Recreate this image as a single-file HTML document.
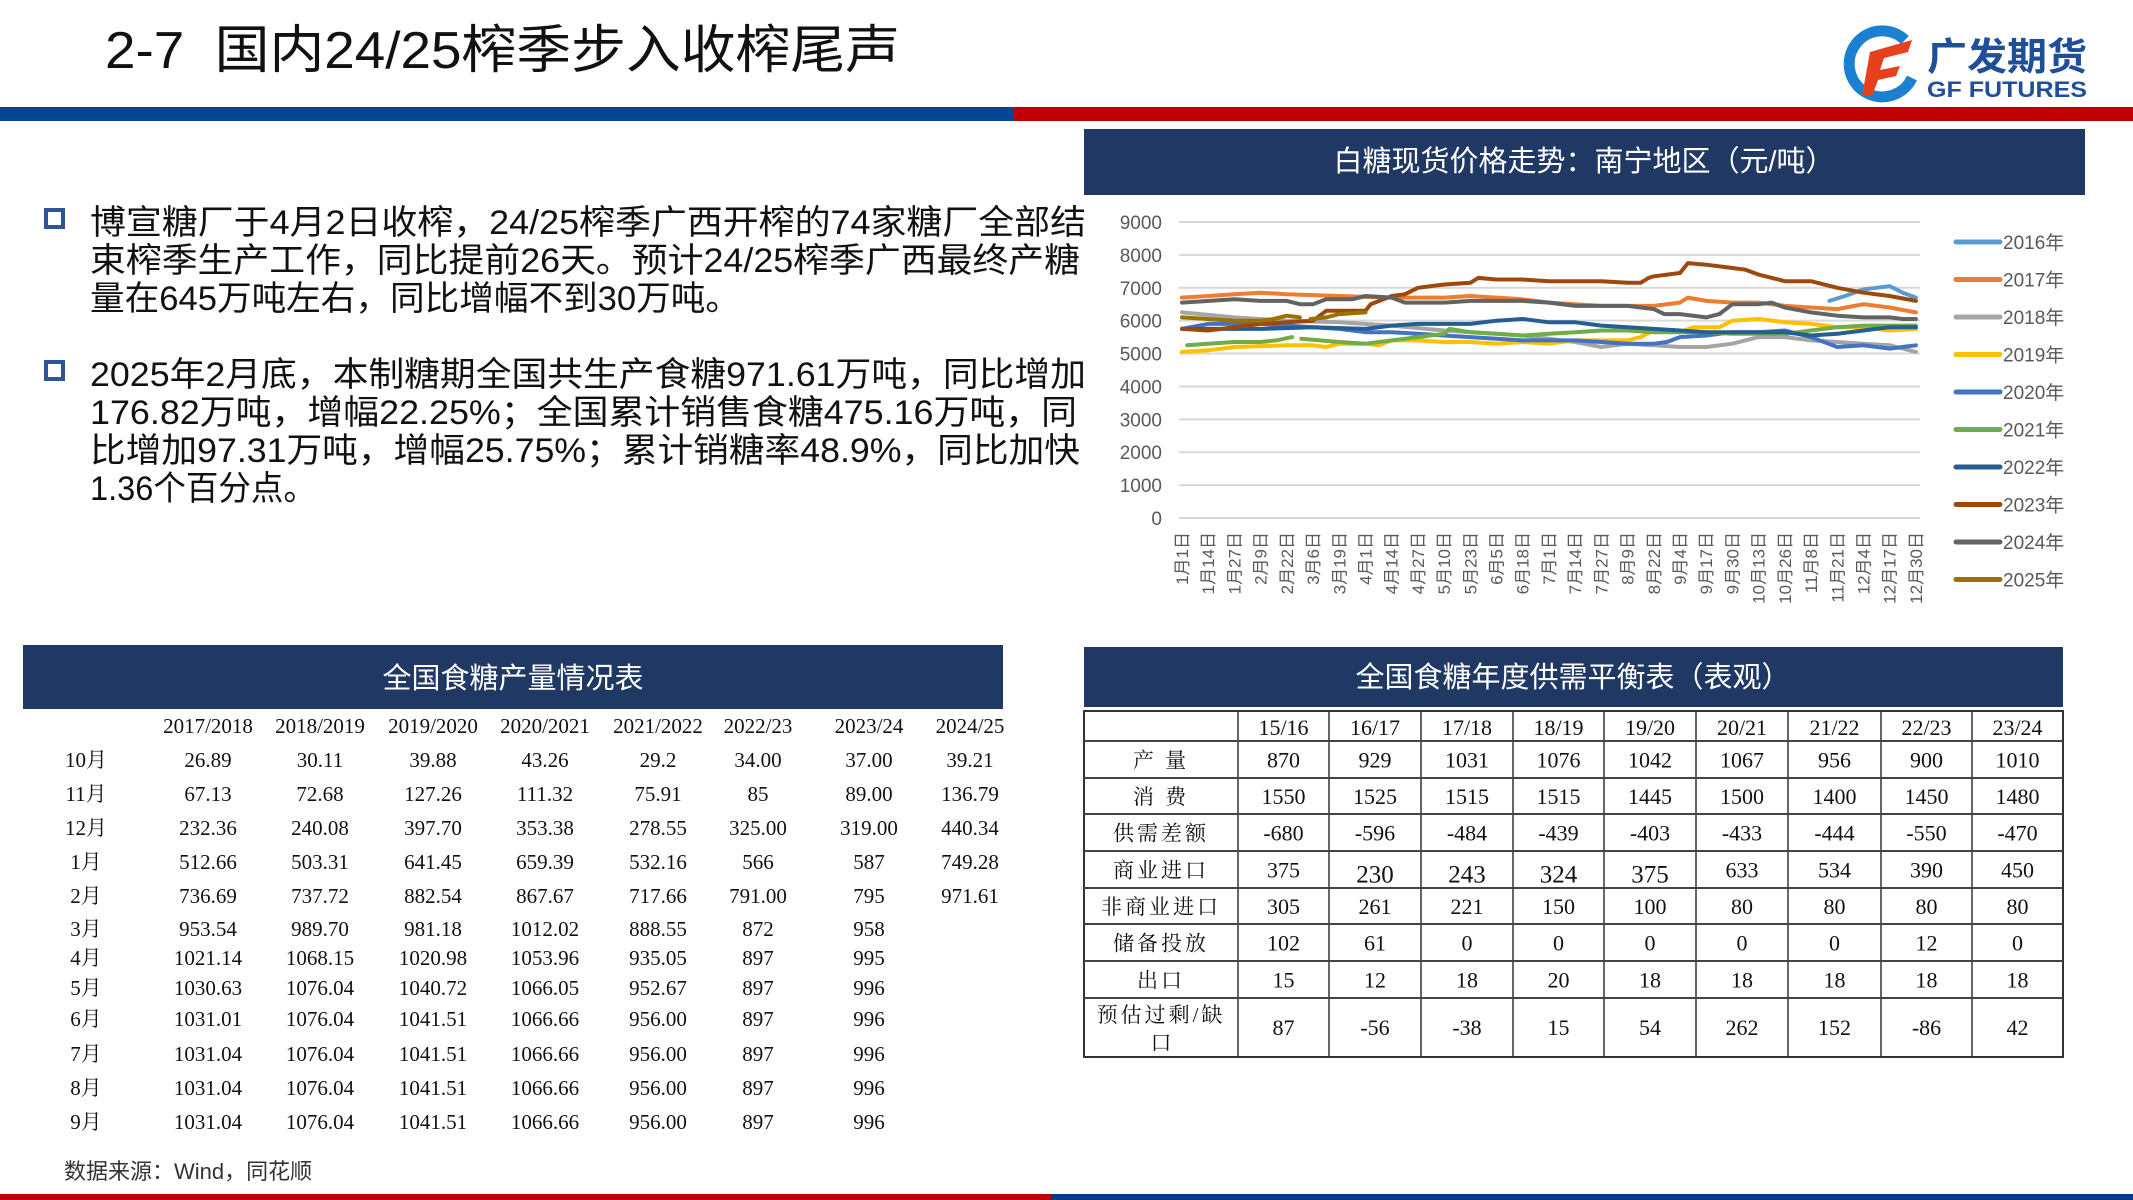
<!DOCTYPE html>
<html><head><meta charset="utf-8"><style>
html,body{margin:0;padding:0;background:#fff;}
svg{display:block}
text{font-family:"Liberation Sans","Noto Sans CJK SC",sans-serif;}
.serif, .serif text, text.serif{font-family:"Liberation Serif","Noto Serif CJK SC",serif;}
</style></head><body>
<svg id="s" width="2133" height="1200" viewBox="0 0 2133 1200" xmlns="http://www.w3.org/2000/svg">
<rect width="2133" height="1200" fill="#fff"/>
<text x="105" y="68" font-size="52" fill="#111" textLength="795" lengthAdjust="spacingAndGlyphs">2-7&#160;&#160;国内24/25榨季步入收榨尾声</text>
<rect x="0" y="107" width="1014" height="14" fill="#034694"/>
<rect x="1014" y="107" width="1119" height="14" fill="#C00000"/>
<rect x="1837" y="100" width="273" height="7" fill="#fff"/>
<!-- logo -->
<g>
<path d="M1905 40 A33 33 0 1 0 1912 78" fill="none" stroke="#1C7FD0" stroke-width="11"/>
<path d="M1870 52 L1912 40 L1908 52 L1884 58 L1880 70 L1900 66 L1896 76 L1878 80 L1872 96 L1862 96 Z" fill="#E8401C"/>
<text x="1927" y="70" font-size="38" font-weight="bold" fill="#1F4E9A" textLength="160" lengthAdjust="spacingAndGlyphs">广发期货</text>
<text x="1927" y="97" font-size="22" font-weight="bold" fill="#1F4E9A" textLength="160" lengthAdjust="spacingAndGlyphs">GF FUTURES</text>
</g>
<!-- bullets -->
<rect x="46" y="210" width="17" height="17" fill="none" stroke="#2F5597" stroke-width="4"/>
<rect x="46" y="362" width="17" height="17" fill="none" stroke="#2F5597" stroke-width="4"/>
<g font-size="34" fill="#111">
<text x="90" y="234" textLength="996" lengthAdjust="spacingAndGlyphs">博宣糖厂于4月2日收榨，24/25榨季广西开榨的74家糖厂全部结</text>
<text x="90" y="272" textLength="990" lengthAdjust="spacingAndGlyphs">束榨季生产工作，同比提前26天。预计24/25榨季广西最终产糖</text>
<text x="90" y="310" textLength="650" lengthAdjust="spacingAndGlyphs">量在645万吨左右，同比增幅不到30万吨。</text>
<text x="90" y="386" textLength="996" lengthAdjust="spacingAndGlyphs">2025年2月底，本制糖期全国共生产食糖971.61万吨，同比增加</text>
<text x="90" y="424" textLength="987" lengthAdjust="spacingAndGlyphs">176.82万吨，增幅22.25%；全国累计销售食糖475.16万吨，同</text>
<text x="90" y="462" textLength="990" lengthAdjust="spacingAndGlyphs">比增加97.31万吨，增幅25.75%；累计销糖率48.9%，同比加快</text>
<text x="90" y="500" textLength="226" lengthAdjust="spacingAndGlyphs">1.36个百分点。</text>
</g>
<!-- chart title -->
<rect x="1084" y="129" width="1001" height="66" fill="#203864"/>
<text x="1584" y="171" font-size="29" fill="#fff" text-anchor="middle">白糖现货价格走势：南宁地区（元/吨）</text>
<g id="chart"></g>
<!-- left table -->
<rect x="23" y="645" width="980" height="64" fill="#203864"/>
<text x="513" y="688" font-size="29" fill="#fff" text-anchor="middle">全国食糖产量情况表</text>
<g id="lt" class="serif" font-size="21" fill="#111" text-anchor="middle"></g>
<text x="64" y="1179" font-size="22" fill="#333">数据来源：Wind，同花顺</text>
<!-- right table -->
<rect x="1084" y="647" width="979" height="60" fill="#203864"/>
<text x="1573" y="687" font-size="29" fill="#fff" text-anchor="middle">全国食糖年度供需平衡表（表观）</text>
<g id="rt"></g>
<rect x="0" y="1194" width="1051" height="6" fill="#C00000"/>
<rect x="1051" y="1194" width="1082" height="6" fill="#003A80"/>
</svg>
<script>
var NS="http://www.w3.org/2000/svg";
function el(p,t,a,txt){var e=document.createElementNS(NS,t);for(var k in a)e.setAttribute(k,a[k]);if(txt!==undefined)e.textContent=txt;p.appendChild(e);return e;}
var ch=document.getElementById('chart');
var X0=1182,DX=26.21,Y0=518,K=0.03289;
function X(i){return X0+i*DX;} function Y(v){return Y0-v*K;}
for(var v=0;v<=9000;v+=1000){el(ch,'line',{x1:1179,x2:1920,y1:Y(v),y2:Y(v),stroke:'#D9D9D9','stroke-width':2});
el(ch,'text',{x:1162,y:Y(v)+7,'font-size':19,fill:'#595959','text-anchor':'end'},String(v));}
var labs=['1月1日','1月14日','1月27日','2月9日','2月22日','3月6日','3月19日','4月1日','4月14日','4月27日','5月10日','5月23日','6月5日','6月18日','7月1日','7月14日','7月27日','8月9日','8月22日','9月4日','9月17日','9月30日','10月13日','10月26日','11月8日','11月21日','12月4日','12月17日','12月30日'];
labs.forEach(function(l,i){var x=X(i)+6;el(ch,'text',{x:0,y:0,'font-size':17,fill:'#595959','text-anchor':'end',transform:'translate('+x+',532) rotate(-90)'},l);});
var S=[
['2016年','#5B9BD5',[[[24.7,6600],[25.3,6750],[26,6950],[26.5,7000],[27,7050],[27.5,6850],[28,6700]]]],
['2017年','#ED7D31',[[[0,6700],[1,6750],[2,6800],[3,6850],[4,6800],[6,6750],[8,6700],[10,6700],[11,6750],[12,6700],[13,6650],[14,6550],[16,6450],[18,6450],[19,6550],[19.3,6700],[20,6600],[21,6550],[22,6550],[23,6450],[24,6400],[25,6350],[26,6500],[27,6400],[28,6250]]]],
['2018年','#A5A5A5',[[[0,6250],[2,6100],[4,6000],[6,5950],[8,5850],[10,5700],[12,5600],[13,5550],[14,5450],[15,5350],[16,5200],[17,5300],[18,5250],[19,5200],[20,5200],[21,5300],[22,5500],[23,5500],[24,5400],[25,5350],[26,5300],[27,5250],[28,5050]]]],
['2019年','#FFC000',[[[0,5050],[1,5100],[2,5200],[4,5250],[5,5250],[5.5,5200],[6,5300],[7,5300],[7.5,5250],[8,5400],[9,5400],[10,5350],[11,5350],[12,5300],[13,5350],[14,5300],[15,5400],[17,5400],[17.5,5500],[18,5700],[19,5650],[19.5,5800],[20.5,5800],[21,6000],[22,6050],[23,5950],[24,5900],[25,5800],[26,5800],[27,5700],[28,5750]]]],
['2020年','#4472C4',[[[0,5750],[1,5900],[3,5900],[5,5800],[6,5750],[7,5650],[8,5650],[9,5600],[10,5550],[11,5500],[12,5450],[13,5400],[15,5400],[16,5350],[17,5300],[18,5300],[18.5,5350],[19,5500],[20,5550],[21,5650],[22,5650],[23,5700],[24,5500],[25,5200],[26,5250],[27,5150],[28,5250]]]],
['2021年','#70AD47',[[[0.2,5250],[1,5300],[2,5350],[3,5350],[3.6,5400],[4.2,5500]],[[4.55,5450],[6,5350],[7,5300],[8,5400],[9,5500],[10,5600],[10.2,5750],[11,5650],[12,5600],[13,5550],[14,5600],[15,5650],[16,5700],[17,5700],[18,5650],[20,5650],[21,5600],[23,5600],[24,5700],[25,5800],[26,5850],[28,5850]]]],
['2022年','#255E91',[[[0,5750],[3,5750],[5,5800],[7,5750],[8,5850],[9,5900],[11,5900],[12,6000],[13,6050],[14,5950],[15,5950],[16,5850],[17,5800],[18,5750],[19,5700],[20,5650],[23,5650],[24,5550],[25,5600],[26,5700],[27,5800],[28,5800]]]],
['2023年','#9E480E',[[[0,5750],[1,5700],[2,5800],[3,5900],[4,5950],[5,6000],[5.5,6300],[7,6300],[7.2,6500],[8,6750],[8.5,6800],[9,7000],[10,7100],[11,7150],[11.3,7300],[12,7250],[13,7250],[14,7200],[16,7200],[17,7150],[17.5,7150],[17.8,7300],[18,7350],[19,7450],[19.3,7750],[20,7700],[21,7600],[21.5,7550],[22,7400],[23,7200],[24,7200],[25,7000],[26,6850],[27,6750],[28,6600]]]],
['2024年','#636363',[[[0,6550],[2,6650],[3,6600],[4,6600],[4.5,6500],[5,6500],[5.5,6650],[6.5,6650],[7,6750],[8,6700],[8.5,6550],[10,6550],[11,6600],[13,6600],[14,6550],[15,6450],[17,6450],[18,6350],[18.4,6200],[19,6200],[20,6100],[20.5,6200],[21,6500],[22,6500],[22.5,6550],[23,6400],[24,6250],[25,6150],[26,6100],[27,6100],[27.5,6050],[28,6050]]]],
['2025年','#997300',[[[0,6100],[1,6050],[2,6000],[3,6000],[3.5,6050],[4,6150],[4.5,6100]],[[4.9,6050],[5.5,6100],[6,6200],[7,6250]]]]
];
S.forEach(function(s,k){s[2].forEach(function(seg){var p=seg.map(function(q){return X(q[0]).toFixed(1)+','+Y(q[1]).toFixed(1);}).join(' ');
el(ch,'polyline',{points:p,fill:'none',stroke:s[1],'stroke-width':4,'stroke-linejoin':'round','stroke-linecap':'round'});});
var ly=242+k*37.5;el(ch,'line',{x1:1956,x2:2000,y1:ly,y2:ly,stroke:s[1],'stroke-width':5,'stroke-linecap':'round'});
el(ch,'text',{x:2003,y:ly+7,'font-size':19,fill:'#595959'},s[0]);});
// left table
var lt=document.getElementById('lt');
var cx=[208,320,433,545,658,758,869,970];
['2017/2018','2018/2019','2019/2020','2020/2021','2021/2022','2022/23','2023/24','2024/25'].forEach(function(h,i){el(lt,'text',{x:cx[i],y:733},h);});
var rows=[['10月','26.89','30.11','39.88','43.26','29.2','34.00','37.00','39.21'],['11月','67.13','72.68','127.26','111.32','75.91','85','89.00','136.79'],['12月','232.36','240.08','397.70','353.38','278.55','325.00','319.00','440.34'],['1月','512.66','503.31','641.45','659.39','532.16','566','587','749.28'],['2月','736.69','737.72','882.54','867.67','717.66','791.00','795','971.61'],['3月','953.54','989.70','981.18','1012.02','888.55','872','958',''],['4月','1021.14','1068.15','1020.98','1053.96','935.05','897','995',''],['5月','1030.63','1076.04','1040.72','1066.05','952.67','897','996',''],['6月','1031.01','1076.04','1041.51','1066.66','956.00','897','996',''],['7月','1031.04','1076.04','1041.51','1066.66','956.00','897','996',''],['8月','1031.04','1076.04','1041.51','1066.66','956.00','897','996',''],['9月','1031.04','1076.04','1041.51','1066.66','956.00','897','996','']];
var ry=[760,794,828,862,896,929,958,988,1019,1054,1088,1122];
rows.forEach(function(r,j){el(lt,'text',{x:86,y:ry[j]+7},r[0]);for(var i=1;i<r.length;i++)if(r[i])el(lt,'text',{x:cx[i-1],y:ry[j]+7},r[i]);});
// right table
var rt=document.getElementById('rt');
var cb=[1084,1238,1329,1421,1513,1604,1696,1788,1881,1972,2063];
var rb=[711,741,778,814,851,888,924,961,998,1057];
el(rt,'rect',{x:1084,y:711,width:979,height:346,fill:'none',stroke:'#333','stroke-width':2});
cb.slice(1,-1).forEach(function(x){el(rt,'line',{x1:x,x2:x,y1:711,y2:1057,stroke:'#333','stroke-width':1.5});});
rb.slice(1,-1).forEach(function(y){el(rt,'line',{x1:1084,x2:2063,y1:y,y2:y,stroke:'#444','stroke-width':2});});
var hd=['15/16','16/17','17/18','18/19','19/20','20/21','21/22','22/23','23/24'];
hd.forEach(function(h,i){el(rt,'text',{x:(cb[i+1]+cb[i+2])/2,y:735,'font-size':22,'text-anchor':'middle',fill:'#111','class':'serif'},h);});
var R=[['产  量',['870','929','1031','1076','1042','1067','956','900','1010']],['消  费',['1550','1525','1515','1515','1445','1500','1400','1450','1480']],['供需差额',['-680','-596','-484','-439','-403','-433','-444','-550','-470']],['商业进口',['375','230','243','324','375','633','534','390','450']],['非商业进口',['305','261','221','150','100','80','80','80','80']],['储备投放',['102','61','0','0','0','0','0','12','0']],['出口',['15','12','18','20','18','18','18','18','18']]];
R.forEach(function(r,j){var y0=rb[j+1],y1=rb[j+2],m=(y0+y1)/2;
el(rt,'text',{x:1161,y:m+8,'font-size':21,'text-anchor':'middle',fill:'#111','class':'serif','letter-spacing':3},r[0]);
r[1].forEach(function(v,i){var big=(j==3&&i>=1&&i<=4);el(rt,'text',{x:(cb[i+1]+cb[i+2])/2,y:m+8+(big?5:0),'font-size':big?25:22,'text-anchor':'middle',fill:'#111','class':'serif'},v);});});
el(rt,'text',{x:1161,y:1022,'font-size':21,'text-anchor':'middle',fill:'#111','class':'serif','letter-spacing':3},'预估过剩/缺');
el(rt,'text',{x:1161,y:1050,'font-size':21,'text-anchor':'middle',fill:'#111','class':'serif'},'口');
['87','-56','-38','15','54','262','152','-86','42'].forEach(function(v,i){el(rt,'text',{x:(cb[i+1]+cb[i+2])/2,y:1035,'font-size':22,'text-anchor':'middle',fill:'#111','class':'serif'},v);});
</script>
</body></html>
